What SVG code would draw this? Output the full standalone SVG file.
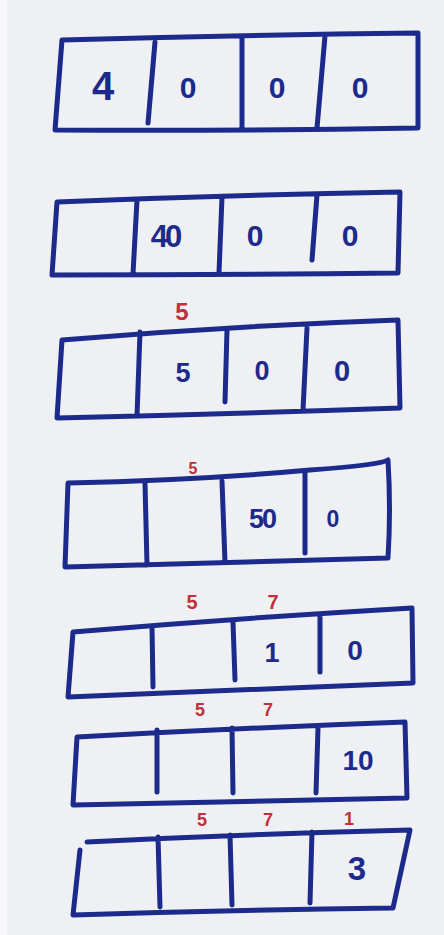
<svg xmlns="http://www.w3.org/2000/svg" width="444" height="935" viewBox="0 0 444 935">
<style>
.box{fill:none;stroke:#1c2a8c;stroke-width:5;stroke-linecap:round;stroke-linejoin:round}
.d{font-family:"Liberation Sans",Arial,sans-serif;font-weight:bold;fill:#1c2a8c;text-anchor:middle}
.r{font-family:"Liberation Sans",Arial,sans-serif;font-weight:bold;fill:#c0303a;text-anchor:middle}
</style>
<rect width="444" height="935" fill="#eef0f4"/>
<rect width="7" height="935" fill="#f8f8fa"/>
<g id="row1">
<path class="box" d="M62,40 Q240,35 418,33 L418,128 Q236,131 55,130 Z M155,42 L148,123 M242,38 L242,130 M325,36 L317,128"/>
<text class="d" x="103" y="100" font-size="40">4</text>
<text class="d" x="188" y="98" font-size="30">0</text>
<text class="d" x="277" y="98" font-size="30">0</text>
<text class="d" x="360" y="98" font-size="30">0</text>
</g>
<g id="row2">
<path class="box" d="M57,202 Q230,195 400,192 L398,273 Q225,275 52,275 Z M137,200 L133,274 M222,197 L219,273 M317,195 L312,260"/>
<text class="d" x="165" y="247" font-size="31" letter-spacing="-3">40</text>
<text class="d" x="255" y="246" font-size="30">0</text>
<text class="d" x="350" y="246" font-size="30">0</text>
</g>
<g id="row3">
<text class="r" x="182" y="320" font-size="24">5</text>
<path class="box" d="M62,340 Q230,326 398,320 L400,408 Q228,414 57,418 Z M140,332 L137,416 M227,330 L225,402 M307,328 L303,410"/>
<text class="d" x="183" y="382" font-size="27">5</text>
<text class="d" x="262" y="380" font-size="27">0</text>
<text class="d" x="342" y="381" font-size="29">0</text>
</g>
<g id="row4">
<text class="r" x="193" y="474" font-size="16">5</text>
<path class="box" d="M68,483 Q200,480 310,470 Q380,465 388,460 Q391,510 388,558 Q226,562 65,567 Z M145,483 L147,565 M222,481 L225,562 M305,473 L305,553"/>
<text class="d" x="262" y="528" font-size="27" letter-spacing="-2">50</text>
<text class="d" x="333" y="527" font-size="23">0</text>
</g>
<g id="row5">
<text class="r" x="192" y="609" font-size="20">5</text>
<text class="r" x="273" y="609" font-size="20">7</text>
<path class="box" d="M73,632 Q240,618 412,608 L413,683 Q240,690 68,697 Z M152,627 L153,687 M233,622 L235,680 M320,617 L320,672"/>
<text class="d" x="272" y="662" font-size="27">1</text>
<text class="d" x="355" y="660" font-size="28">0</text>
</g>
<g id="row6">
<text class="r" x="200" y="716" font-size="18">5</text>
<text class="r" x="268" y="716" font-size="18">7</text>
<path class="box" d="M77,737 Q240,728 405,722 L407,798 Q240,802 73,805 Z M157,730 L157,792 M232,728 L233,793 M318,728 L316,793"/>
<text class="d" x="358" y="770" font-size="28">10</text>
</g>
<g id="row7">
<text class="r" x="202" y="826" font-size="18">5</text>
<text class="r" x="268" y="826" font-size="18">7</text>
<text class="r" x="349" y="825" font-size="18">1</text>
<path class="box" d="M87,842 Q250,834 410,830 L393,908 Q233,910 73,915 L80,850 M158,837 L160,907 M230,835 L232,905 M312,832 L310,903"/>
<text class="d" x="357" y="880" font-size="33">3</text>
</g>
</svg>
